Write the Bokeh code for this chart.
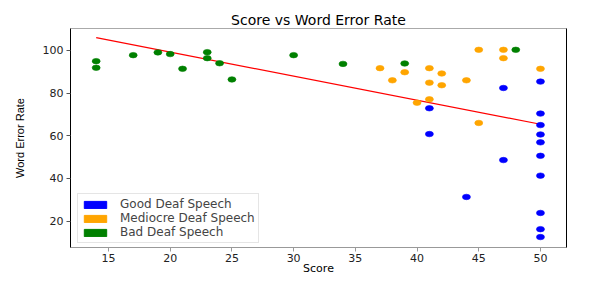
from bokeh.plotting import figure
from bokeh.models import Range1d, FixedTicker, Legend, LegendItem, LinearAxis
from bokeh.embed import file_html
from bokeh.resources import INLINE

# Data
good_x = [41, 41, 44, 47, 47, 50, 50, 50, 50, 50, 50, 50, 50, 50, 50]
good_y = [72.9, 60.8, 31.3, 82.4, 48.6, 85.4, 70.4, 65.0, 60.6, 56.9, 50.6, 41.3, 23.8, 16.2, 12.5]

mediocre_x = [37, 38, 39, 40, 41, 41, 41, 42, 42, 44, 45, 45, 47, 47, 50]
mediocre_y = [91.7, 86.0, 89.8, 75.5, 91.7, 84.9, 77.1, 89.2, 83.7, 86.0, 100.3, 66.0, 100.3, 96.4, 91.4]

bad_x = [14, 14, 17, 19, 20, 21, 23, 23, 24, 25, 30, 34, 39, 48]
bad_y = [95.0, 91.9, 97.8, 99.1, 98.3, 91.4, 99.2, 96.4, 94.0, 86.4, 97.8, 93.7, 93.9, 100.3]

fit_x = [14, 50]
fit_y = [106.0, 65.4]

x_ticks = [15, 20, 25, 30, 35, 40, 45, 50]
y_ticks = [20, 40, 60, 80, 100]

labels = ["Good Deaf Speech", "Mediocre Deaf Speech", "Bad Deaf Speech"]
colors = ["blue", "orange", "green"]

FONT = "DejaVu Sans"
NAN = float("nan")

p = figure(frame_width=496, frame_height=219, output_backend="svg", toolbar_location=None,
           x_range=Range1d(11.92, 52.11), y_range=Range1d(7.6, 110.3),
           title="Score vs Word Error Rate")
p.min_border_left = 70
p.min_border_right = 34
p.min_border_top = 28
p.min_border_bottom = 10
p.background_fill_color = "white"
p.border_fill_color = "white"
p.outline_line_color = None
p.xgrid.visible = False
p.ygrid.visible = False

p.title.text_font = FONT
p.title.text_font_size = "14px"
p.title.text_font_style = "normal"
p.title.align = "center"
p.title.standoff = 2
p.title.text_color = "black"

for ax in (p.xaxis[0], p.yaxis[0]):
    ax.major_tick_out = 4
    ax.major_tick_in = 0
    ax.minor_tick_out = 0
    ax.minor_tick_in = 0
    ax.major_label_text_font = FONT
    ax.major_label_text_font_size = "11px"
    ax.major_label_text_color = "#222222"
    ax.axis_label_text_font_style = "normal"
    ax.axis_label_text_color = "black"

p.xaxis.ticker = FixedTicker(ticks=x_ticks)
p.yaxis.ticker = FixedTicker(ticks=y_ticks)
p.xaxis.axis_label = "Score"
p.xaxis.axis_label_text_font = FONT
p.xaxis.axis_label_text_font_size = "11px"
p.xaxis.axis_label_standoff = -3
p.xaxis.major_label_standoff = 2
p.xaxis.axis_line_color = "#999999"
p.xaxis.major_tick_line_color = "#999999"

p.yaxis.axis_label = "Word Error Rate"
p.yaxis.axis_label_text_font = "Liberation Sans"
p.yaxis.axis_label_text_font_size = "11px"
p.yaxis.axis_label_standoff = 14
p.yaxis.major_label_standoff = 3
p.yaxis.axis_line_color = "black"
p.yaxis.major_tick_line_color = "#555555"

# top and right spines
top_ax = LinearAxis(ticker=FixedTicker(ticks=[]), major_label_text_font_size="0px",
                    axis_line_color="#aaaaaa", major_tick_out=0, minor_tick_out=0)
right_ax = LinearAxis(ticker=FixedTicker(ticks=[]), major_label_text_font_size="0px",
                      axis_line_color="black", major_tick_out=0, minor_tick_out=0)
p.add_layout(top_ax, "above")
p.add_layout(right_ax, "right")

p.line(fit_x, fit_y, line_color="red", line_width=1.2)

series = [(bad_x, bad_y, "green"), (mediocre_x, mediocre_y, "orange"), (good_x, good_y, "blue")]
for xs, ys, c in series:
    p.ellipse(x=xs, y=ys, width=8, height=5.5, width_units="screen", height_units="screen",
              fill_color=c, line_color=c, line_alpha=0.6)

# legend proxies (rectangles, not drawn in the plot area)
proxies = []
for label, c in zip(labels, colors):
    r = p.quad(left=[NAN], right=[NAN], top=[NAN], bottom=[NAN], fill_color=c, line_color=c)
    proxies.append(LegendItem(label=label, renderers=[r]))

legend = Legend(items=proxies, location=(7, 4), margin=0, padding=3, spacing=-3,
                glyph_width=28, glyph_height=9, label_height=10, label_standoff=11,
                label_text_font=FONT, label_text_font_size="12px",
                border_line_color="#cccccc", border_line_width=1,
                background_fill_color="white", background_fill_alpha=0.8)
p.add_layout(legend, "center")

open("out.html", "w").write(file_html(p, INLINE))
